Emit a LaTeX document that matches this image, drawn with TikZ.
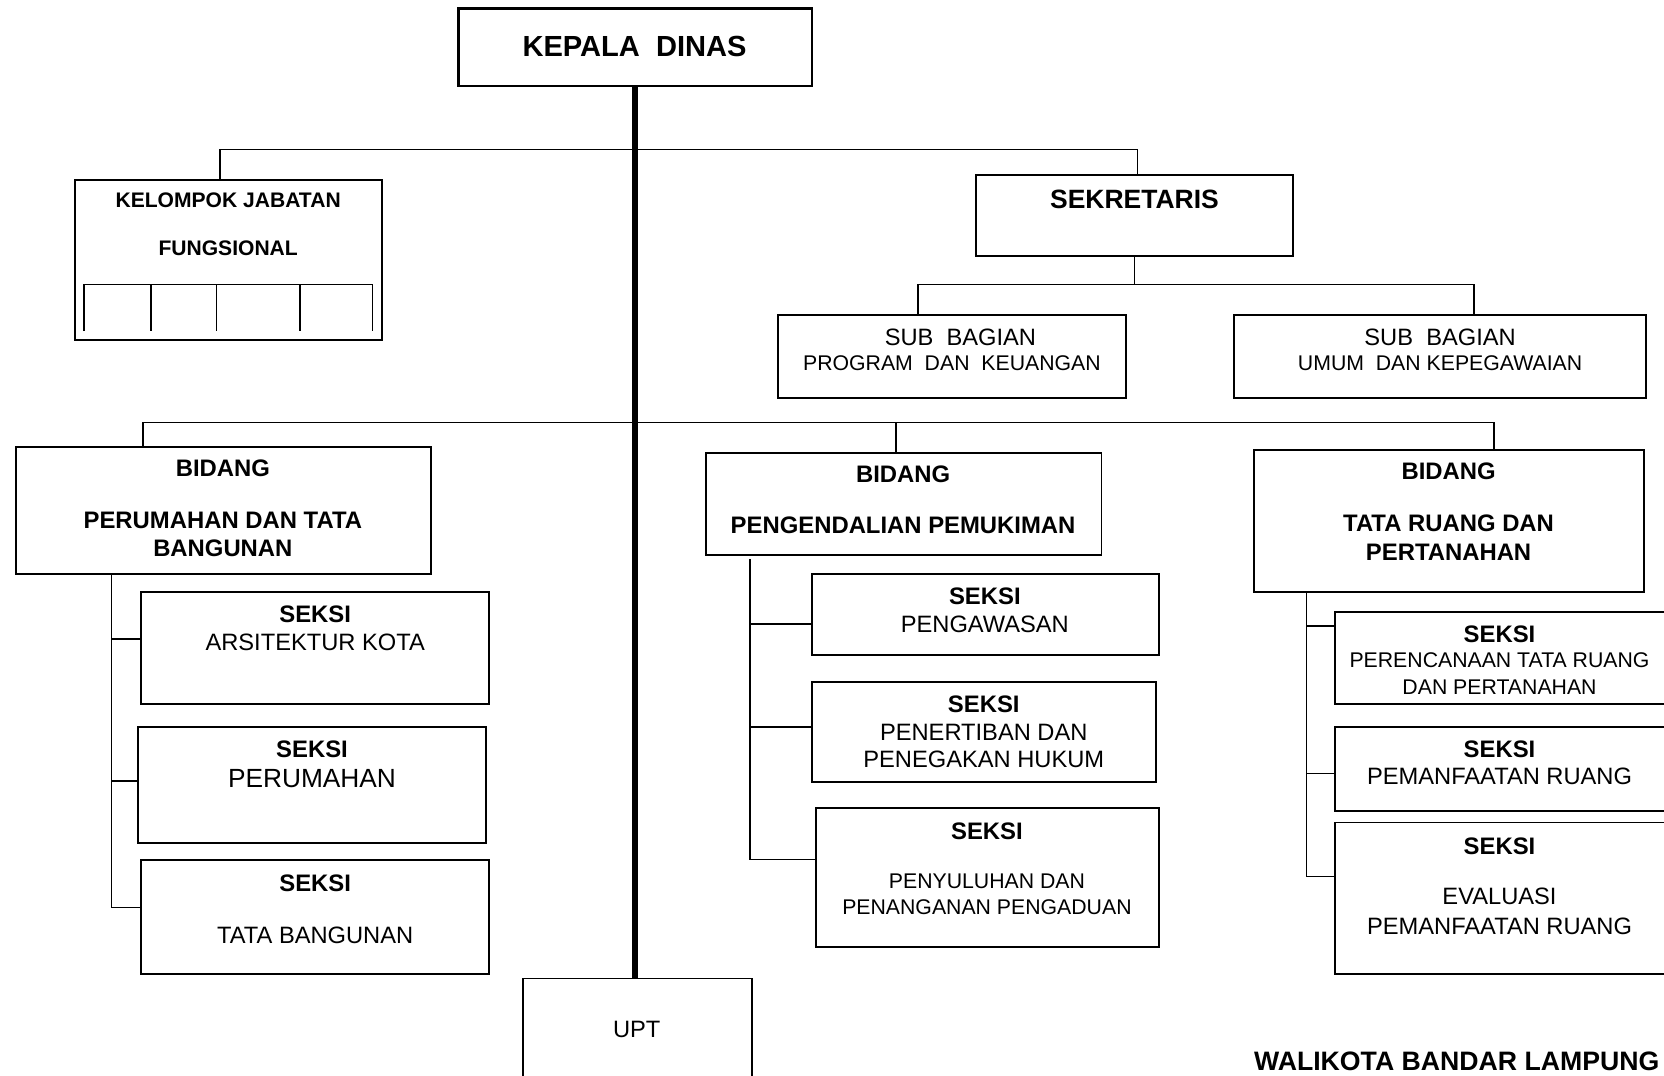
\documentclass[tikz,border=0pt]{standalone}
\usepackage{fontspec}
\setmainfont{Liberation Sans}
\usepackage{tikz}
\usetikzlibrary{fit}
\tikzstyle{box} = [draw, line width=1pt, inner sep=0pt]
\tikzstyle{conn} = [line width=0.9pt]
\tikzstyle{spine} = [line width=3pt]
\tikzstyle{bt} = [inner sep=0pt, align=center, font=\bfseries\fontsize{12.8}{15.4}\selectfont]
\tikzstyle{rt} = [inner sep=0pt, align=center, font=\fontsize{12.7}{14.8}\selectfont]
\tikzstyle{st} = [inner sep=0pt, align=center, font=\fontsize{11.4}{14.2}\selectfont]

\begin{document}
\begin{tikzpicture}[x=0.02cm, y=-0.02cm]
    \useasboundingbox (0,0) rectangle (1568,1013);
    % boxes
    \node[box, line width=1.2pt, fit={(432,8) (765,81)}] (kd) {};
    \node[box, fit={(71,170) (360,320)}] (kjf) {};
    \node[box, fit={(920,165) (1218,241)}] (sek) {};
    \node[box, fit={(733,297) (1061,375)}] (sb1) {};
    \node[box, fit={(1163,297) (1551,375)}] (sb2) {};
    \node[box, fit={(15,421) (406,541)}] (b1) {};
    \node[box, fit={(665,427) (1038,523)}] (b2) {};
    \node[box, fit={(1182,424) (1549,558)}] (b3) {};
    \node[box, fit={(133,558) (461,663)}] (sArs) {};
    \node[box, fit={(130,685) (458,794)}] (sPer) {};
    \node[box, fit={(133,810) (461,918)}] (sTB) {};
    \node[box, fit={(765,541) (1092,617)}] (sPengaw) {};
    \node[box, fit={(765,643) (1089,737)}] (sPenert) {};
    \node[box, fit={(769,761) (1092,892)}] (sPeny) {};
    \node[box, fit={(1258,577) (1600,663)}] (sPeren) {};
    \node[box, fit={(1258,685) (1600,764)}] (sPem) {};
    \node[box, fit={(1258,775) (1600,918)}] (sEval) {};
    \node[box, fit={(493,922) (709,1060)}] (upt) {};

    % texts
    \node[bt, font=\bfseries\fontsize{15.6}{18}\selectfont] (kdT) at (598,44) {KEPALA~~DINAS};
    \node[bt, font=\bfseries\fontsize{11.3}{14}\selectfont] (kjfT1) at (215,189) {KELOMPOK JABATAN};
    \node[bt, font=\bfseries\fontsize{11.3}{14}\selectfont] (kjfT2) at (215,234) {FUNGSIONAL};
    \node[bt, font=\bfseries\fontsize{14.2}{17}\selectfont] (sekT) at (1069,188) {SEKRETARIS};
    \node[rt] (sb1T1) at (905,318) {SUB~~BAGIAN};
    \node[st] (sb1T2) at (897,342) {PROGRAM~~DAN~~KEUANGAN};
    \node[rt] (sb2T1) at (1357,318) {SUB~~BAGIAN};
    \node[st] (sb2T2) at (1357,342) {UMUM~~DAN KEPEGAWAIAN};
    \node[bt] (b1T1) at (210,441) {BIDANG};
    \node[bt] (b1T2) at (210,503.5) {PERUMAHAN DAN TATA\\BANGUNAN};
    \node[bt] (b2T1) at (851,447) {BIDANG};
    \node[bt] (b2T2) at (851,495) {PENGENDALIAN PEMUKIMAN};
    \node[bt] (b3T1) at (1365,444) {BIDANG};
    \node[bt] (b3T2) at (1365,506.5) {TATA RUANG DAN\\PERTANAHAN};
    \node[bt] (sArsT1) at (297,579) {SEKSI};
    \node[rt] (sArsT2) at (297,605) {ARSITEKTUR KOTA};
    \node[bt] (sPerT1) at (294,706) {SEKSI};
    \node[rt, font=\fontsize{14.1}{16}\selectfont] (sPerT2) at (294,734) {PERUMAHAN};
    \node[bt] (sTBT1) at (297,832) {SEKSI};
    \node[rt] (sTBT2) at (297,881) {TATA BANGUNAN};
    \node[bt] (sPengawT1) at (928,562) {SEKSI};
    \node[rt] (sPengawT2) at (928,588) {PENGAWASAN};
    \node[bt] (sPenertT1) at (927,664) {SEKSI};
    \node[rt] (sPenertT2) at (927,703) {PENERTIBAN DAN\\PENEGAKAN HUKUM};
    \node[bt] (sPenyT1) at (930,783) {SEKSI};
    \node[st] (sPenyT2) at (930,842.5) {PENYULUHAN DAN\\PENANGANAN PENGADUAN};
    \node[bt] (sPerenT1) at (1413,598) {SEKSI};
    \node[st] (sPerenT2) at (1413,634.5) {PERENCANAAN TATA RUANG\\DAN PERTANAHAN};
    \node[bt] (sPemT1) at (1413,706) {SEKSI};
    \node[rt] (sPemT2) at (1413,732) {PEMANFAATAN RUANG};
    \node[bt] (sEvalT1) at (1413,797) {SEKSI};
    \node[rt, font=\fontsize{12.7}{15.9}\selectfont] (sEvalT2) at (1413,859) {EVALUASI\\PEMANFAATAN RUANG};
    \node[rt] (uptT) at (600,970) {UPT};
    \node[bt, anchor=south east, font=\bfseries\fontsize{14.3}{17}\selectfont] (wali) at (1564,1009) {WALIKOTA BANDAR LAMPUNG};

    % cells of kelompok jabatan fungsional
    \draw[conn] (79,312) |- (351,268) -- (351,312);
    \foreach \x in {142,204,283}
      \draw[conn] (\x,268) -- (\x,312);

    % lines
    \draw[spine] (kd.south) -- (kd.south |- upt.north);
    \coordinate (busL) at (207,141);
    \coordinate (busR) at (1072,141);
    \draw[conn] (kjf.north -| busL) -- (busL) -- (busR) -- (busR |- sek.north);
    \coordinate (sbL) at (865,268);
    \coordinate (sbR) at (1389,268);
    \draw[conn] (sek.south) -- (sek.south |- sbL);
    \draw[conn] (sb1.north -| sbL) -- (sbL) -- (sbR) -- (sbR |- sb2.north);
    \coordinate (bdL) at (135,398);
    \coordinate (bdM) at (844,398);
    \coordinate (bdR) at (1408,398);
    \draw[conn] (b1.north -| bdL) -- (bdL) -- (bdR) -- (bdR |- b3.north);
    \draw[conn] (bdM) -- (bdM |- b2.north);

    \draw[conn] (b1.south -| 105,0) -- (105,855);
    \foreach \b/\y in {sArs/602, sPer/736, sTB/855}
      \draw[conn] (105,\y) -- (\b.west |- 0,\y);
    \draw[conn] (707,527) -- (707,810);
    \foreach \b/\y in {sPengaw/588, sPenert/685, sPeny/810}
      \draw[conn] (707,\y) -- (\b.west |- 0,\y);
    \draw[conn] (b3.south -| 1231,0) -- (1231,826);
    \foreach \b/\y in {sPeren/590, sPem/729, sEval/826}
      \draw[conn] (1231,\y) -- (\b.west |- 0,\y);
  \end{tikzpicture}
\end{document}
